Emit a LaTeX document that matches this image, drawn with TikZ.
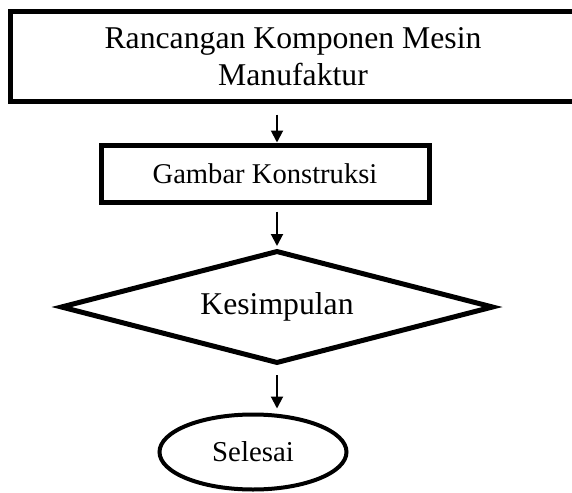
\documentclass[tikz,border=0pt]{standalone}
\usepackage{fontspec}
\setmainfont{Liberation Serif}
\usetikzlibrary{shapes,arrows.meta,positioning}

\begin{document}
\begin{tikzpicture}[x=1pt, y=1pt,
    kotak/.style={draw, line width=5pt, inner sep=0pt, align=center},
    belah/.style={draw, diamond, line width=5pt, inner sep=0pt, aspect=3.83},
    elips/.style={draw, ellipse, line width=4pt, inner sep=0pt},
    panah/.style={line width=2pt, -{Triangle[length=12pt,width=12pt]}}]
\useasboundingbox (0,0) rectangle (572,-492);

% Blok proses
\node[kotak, minimum width=566pt, minimum height=90pt,
      font=\fontsize{31.7}{37}\selectfont] (rancangan) at (293,-57)
    {Rancangan Komponen Mesin\\Manufaktur};
\node[kotak, minimum width=328pt, minimum height=57pt,
      font=\fontsize{28.6}{33}\selectfont] (konstruksi) at (265,-173.5)
    {Gambar Konstruksi};

% Keputusan
\node[belah, minimum width=433pt, minimum height=113pt,
      font=\fontsize{31.7}{37}\selectfont] (kesimpulan) at (277,-307)
    {Kesimpulan};

% Terminal
\node[elips, minimum width=187pt, minimum height=75pt,
      font=\fontsize{28.8}{33}\selectfont] (selesai) at (253,-452)
    {Selesai};

% Panah
\draw[panah, shorten <=10pt] (rancangan.south -| kesimpulan.north) -- (konstruksi.north -| kesimpulan.north);
\draw[panah, shorten <=7pt, shorten >=2pt] (konstruksi.south -| kesimpulan.north) -- (kesimpulan.north);
\draw[panah, shorten <=9pt, shorten >=4pt] (kesimpulan.south) -- (selesai.north -| kesimpulan.south);
\end{tikzpicture}
\end{document}
